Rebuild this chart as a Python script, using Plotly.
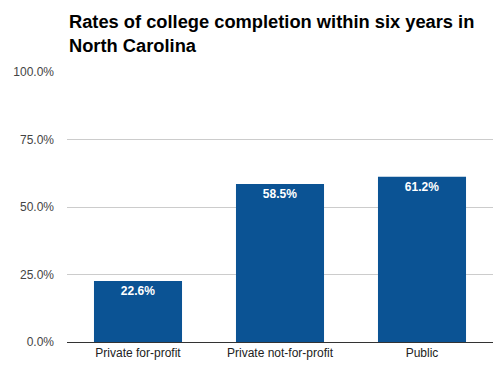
import plotly.graph_objects as go

categories = ["Private for-profit", "Private not-for-profit", "Public"]
completion_rate = [0.226, 0.585, 0.612]
tick_vals = [0, 0.25, 0.5, 0.75, 1.0]
title_text = "<b>Rates of college completion within six years in<br>North Carolina</b>"

fig = go.Figure(go.Bar(
    x=categories,
    y=completion_rate,
    marker=dict(color="#0b5394", line=dict(width=0)),
    texttemplate="%{y:.1%}",
    textposition="inside",
    insidetextanchor="end",
    textfont=dict(family="Liberation Sans, Arial", size=12, color="white", weight="bold"),
    hoverinfo="skip",
))

plot_top, plot_h = 72, 270
fig.update_layout(
    width=504, height=375,
    margin=dict(l=67, r=11, t=72, b=33),
    paper_bgcolor="white", plot_bgcolor="white",
    bargap=0.38,
    showlegend=False,
    font=dict(family="Liberation Sans, Arial", size=12, color="#444"),
    annotations=[dict(
        text=title_text, showarrow=False,
        xref="paper", x=0, xanchor="left",
        yref="paper", y=1 + (plot_top - 9) / plot_h, yanchor="top",
        align="left",
        font=dict(family="Liberation Sans, Arial", size=18.3, color="black"),
    )],
)
fig.update_xaxes(
    showline=True, linecolor="#333", linewidth=1,
    ticks="", tickfont=dict(color="#222", size=12),
    showgrid=False,
)
fig.update_yaxes(
    range=[0, 1.0], tickvals=tick_vals, tickformat=".1%",
    gridcolor="#cccccc", gridwidth=1, zeroline=False,
    ticks="", ticklen=0, tickfont=dict(color="#444", size=12),
    ticklabelstandoff=12,
)

fig.write_html("out.html", config={"displayModeBar": False},
               post_script="document.body.style.margin='0';document.body.style.padding='0';")
